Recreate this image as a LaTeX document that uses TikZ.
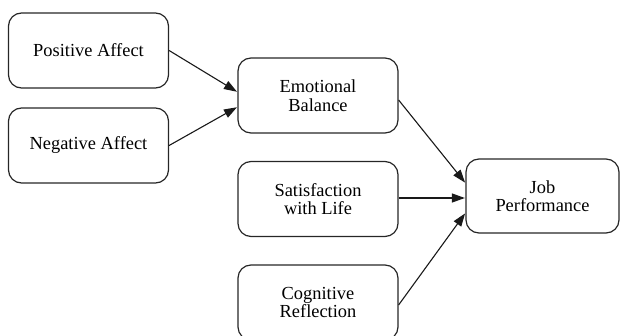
\documentclass[tikz,border=0pt]{standalone}
\usepackage{fontspec}
\setmainfont{Liberation Serif}
\newfontfamily\tnr{Liberation Serif}
\usetikzlibrary{arrows.meta}
\begin{document}
\begin{tikzpicture}[x=1pt,y=-1pt,
  box/.style={draw=black!85, line width=1.2pt, rounded corners=13pt, minimum width=160pt, minimum height=75pt, inner sep=0pt, align=center, font=\tnr\fontsize{18.4}{18.5}\selectfont},
  arr/.style={-{Triangle[length=13pt,width=9pt]}, line width=1.1pt, black!90, shorten >=0.5pt}]
\useasboundingbox (0,0) rectangle (620,336);
\node[box] (pa) at (88.5,50.5) {Positive Affect};
\node[box] (na) at (88.5,145.5) {Negative Affect};
\node[box] (eb) at (318,95.5) {Emotional\\Balance};
\node[box] (sl) at (318,199) {Satisfaction\\with Life};
\node[box] (cr) at (318,302.5) {Cognitive\\Reflection};
\node[box, minimum width=153pt, minimum height=74pt] (jp) at (542.5,196) {Job\\Performance};
\draw[arr] (pa.east) -- ([yshift=3.5pt]eb.west);
\draw[arr] (na.east) -- ([yshift=-11.5pt]eb.west);
\draw[arr] ([yshift=-4.5pt]eb.east) -- ([yshift=13pt]jp.west);
\draw[arr] ([yshift=1pt]sl.east) -- ([yshift=-2pt]jp.west);
\draw[arr] ([yshift=-2.5pt]cr.east) -- ([yshift=-17pt]jp.west);
\end{tikzpicture}
\end{document}
